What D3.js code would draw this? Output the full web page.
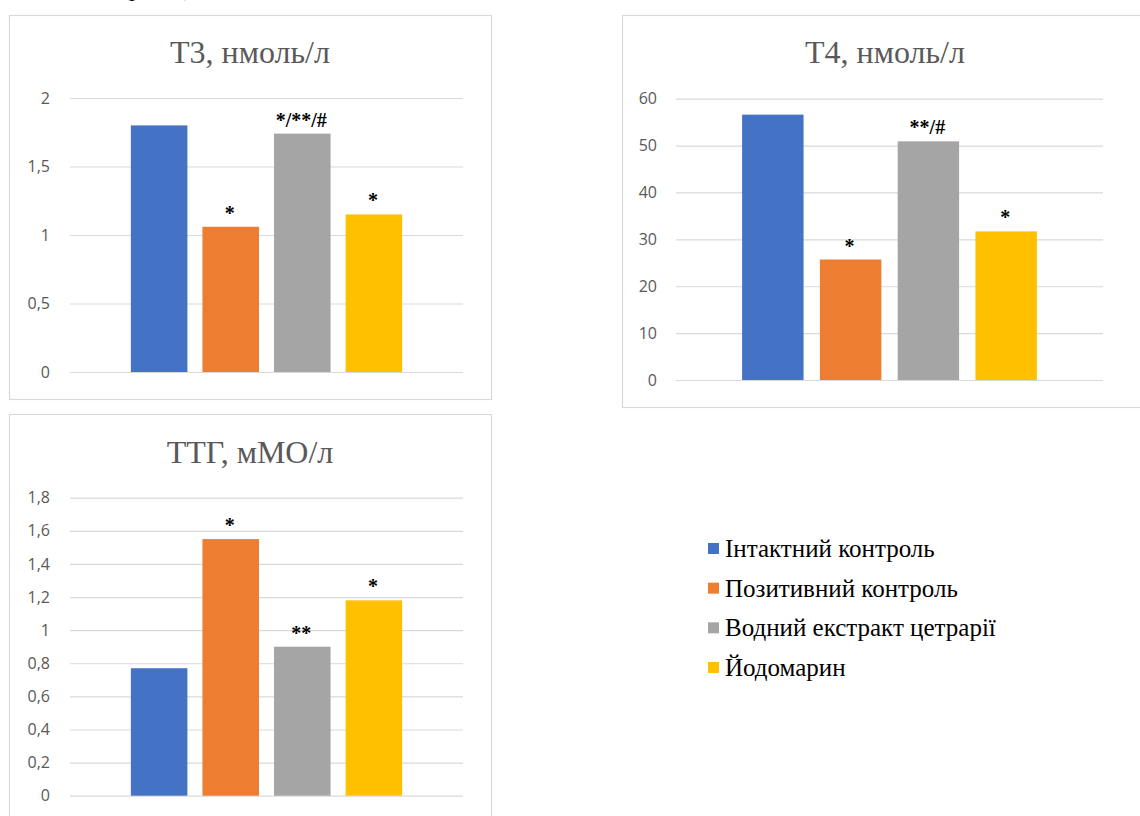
<!DOCTYPE html>
<html>
<head>
<meta charset="utf-8">
<script src="https://cdn.jsdelivr.net/npm/d3@7"></script>
<style>
  html, body { margin: 0; padding: 0; background: #ffffff; }
  svg { display: block; }
</style>
</head>
<body>
<svg id="chart" width="1140" height="816"></svg>
<script>
// ---- data ----
const series = ["Інтактний контроль", "Позитивний контроль", "Водний екстракт цетрарії", "Йодомарин"];
const seriesColors = ["#4472C4", "#ED7D31", "#A5A5A5", "#FFC000"];

const t3Title = "Т3, нмоль/л";
const t3Values = [1.80, 1.06, 1.74, 1.15];
const t3Marks = ["", "*", "*/**/#", "*"];
const t3Ticks = [0, 0.5, 1, 1.5, 2];

const t4Title = "Т4, нмоль/л";
const t4Values = [56.6, 25.7, 50.9, 31.7];
const t4Marks = ["", "*", "**/#", "*"];
const t4Ticks = [0, 10, 20, 30, 40, 50, 60];

const ttgTitle = "ТТГ, мМО/л";
const ttgValues = [0.77, 1.55, 0.90, 1.18];
const ttgMarks = ["", "*", "**", "*"];
const ttgTicks = [0, 0.2, 0.4, 0.6, 0.8, 1, 1.2, 1.4, 1.6, 1.8];

// ---- drawing ----
const svg = d3.select("#chart");
const serif = "'Liberation Serif', 'Times New Roman', serif";
const sans = "'Open Sans', 'Liberation Sans', sans-serif";
const locale = d3.formatLocale({decimal: ",", thousands: " ", grouping: [3], currency: ["", ""]});
const fmt = locale.format(".1~f");

// partially visible text line above the charts (cut by the page edge as in the source)
svg.append("text")
  .attr("x", 122).attr("y", -4)
  .attr("font-family", serif).attr("font-size", 22).attr("fill", "#000")
  .text("(рис. 1)");

function panel(cfg) {
  const g = svg.append("g");
  g.append("rect")
    .attr("x", cfg.frame[0] + 0.5).attr("y", cfg.frame[1] + 0.5)
    .attr("width", cfg.frame[2] - cfg.frame[0]).attr("height", cfg.frame[3] - cfg.frame[1])
    .attr("fill", "#fff").attr("stroke", "#d9d9d9").attr("stroke-width", 1.2);

  g.append("text")
    .attr("x", (cfg.frame[0] + cfg.frame[2]) / 2).attr("y", cfg.titleY)
    .attr("text-anchor", "middle")
    .attr("font-family", serif).attr("font-size", 32).attr("fill", "#595959")
    .text(cfg.title);

  const y = d3.scaleLinear().domain([0, cfg.ticks[cfg.ticks.length - 1]]).range(cfg.plotY);
  const x = d3.scaleBand().domain(series).range(cfg.plotX).paddingInner(0.21).paddingOuter(0.85);

  const axis = d3.axisLeft(y).tickValues(cfg.ticks).tickFormat(fmt)
    .tickSize(-(cfg.plotX[1] - cfg.plotX[0])).tickPadding(cfg.pad);
  const ag = g.append("g").attr("transform", `translate(${cfg.plotX[0]},0)`).call(axis);
  ag.select(".domain").remove();
  ag.selectAll(".tick line").attr("stroke", "#d9d9d9").attr("stroke-width", 1.2);
  ag.selectAll(".tick text").attr("font-family", sans).attr("font-size", 16).attr("fill", "#595959");

  g.selectAll("rect.bar").data(cfg.values).join("rect")
    .attr("class", "bar")
    .attr("x", (d, i) => x(series[i]))
    .attr("width", x.bandwidth())
    .attr("y", d => y(d))
    .attr("height", d => y(0) - y(d))
    .attr("fill", (d, i) => seriesColors[i]);

  g.selectAll("text.mark").data(cfg.marks).join("text")
    .attr("class", "mark")
    .attr("x", (d, i) => x(series[i]) + x.bandwidth() / 2 - 1)
    .attr("y", (d, i) => y(cfg.values[i]) - 7)
    .attr("text-anchor", "middle")
    .attr("font-family", serif).attr("font-size", 20).attr("font-weight", "bold").attr("fill", "#000")
    .text(d => d);
}

panel({title: t3Title, values: t3Values, marks: t3Marks, ticks: t3Ticks,
  frame: [9, 15, 491, 399], plotX: [70, 463], plotY: [372, 98], titleY: 63, pad: 20});
panel({title: t4Title, values: t4Values, marks: t4Marks, ticks: t4Ticks,
  frame: [622, 15, 1148, 407], plotX: [676, 1103], plotY: [380, 98.7], titleY: 63, pad: 19});
panel({title: ttgTitle, values: ttgValues, marks: ttgMarks, ticks: ttgTicks,
  frame: [9, 414, 491, 840], plotX: [70, 463], plotY: [795.7, 497.7], titleY: 463, pad: 20});

// legend
const legend = svg.append("g");
const legY = d3.scalePoint().domain(series).range([549, 668]);
legend.selectAll("rect").data(series).join("rect")
  .attr("x", 708).attr("y", d => legY(d) - 6)
  .attr("width", 11).attr("height", 11)
  .attr("fill", (d, i) => seriesColors[i]);
legend.selectAll("text").data(series).join("text")
  .attr("x", 725).attr("y", d => legY(d) + 8)
  .attr("font-family", serif).attr("font-size", 25).attr("fill", "#000")
  .text(d => d);
</script>
</body>
</html>
